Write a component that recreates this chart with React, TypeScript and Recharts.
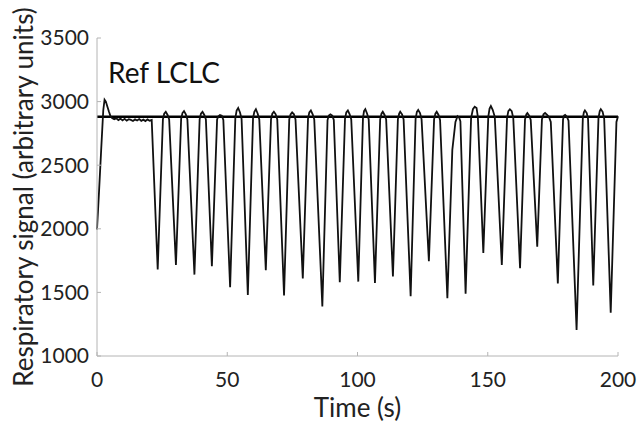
import React from 'react'
import { LineChart, Line, XAxis, YAxis, ReferenceLine } from 'recharts'

// respiratory trace (time in s, signal in arbitrary units)
const times = [
  0, 0.8, 1.6, 2.4, 2.9, 3.4, 4.0, 4.6, 5.2, 5.8, 6.6, 7.4, 8.2, 9.0, 9.8, 10.6, 11.4, 12.2, 13.0, 13.8,
  14.6, 15.4, 16.2, 17.0, 17.8, 18.6, 19.4, 20.2, 21.0,
  23.3, 25.3, 25.8, 26.4, 27.1, 27.7,
  30.3, 32.3, 32.8, 33.4, 34.1, 34.7,
  37.4, 39.4, 39.9, 40.5, 41.2, 41.8,
  44.1, 46.1, 46.6, 47.2, 47.9, 48.5,
  51.1, 53.1, 53.6, 54.2, 54.9, 55.5,
  57.9, 59.9, 60.4, 61.0, 61.7, 62.3,
  64.8, 66.8, 67.3, 67.9, 68.6, 69.2,
  71.8, 73.8, 74.3, 74.9, 75.6, 76.2,
  79.0, 81.0, 81.5, 82.1, 82.8, 83.4,
  86.5, 88.5, 89.0, 89.6, 90.3, 90.9,
  93.2, 95.2, 95.7, 96.3, 97.0, 97.6,
  100.3, 102.1, 102.5, 103.0, 103.7, 104.3,
  106.7, 108.7, 109.2, 109.7, 110.4, 111.0,
  113.6, 115.5, 116.0, 116.4, 117.1, 117.7,
  120.4, 122.3, 122.8, 123.3, 124.0, 124.6,
  127.4, 129.4, 129.9, 130.4, 131.1, 131.7,
  134.5, 136.4, 137.6, 138.4, 139.0, 139.5,
  141.5, 143.6, 144.3, 145.0, 145.7, 146.2,
  148.3, 150.2, 150.7, 151.2, 151.9, 152.7,
  155.4, 157.4, 157.9, 158.5, 159.2, 159.8,
  162.4, 164.3, 164.8, 165.2, 165.9, 166.5,
  169.0, 170.8, 171.4, 172.0, 172.8, 173.5, 174.2,
  176.9, 178.9, 179.3, 179.7, 180.4, 181.0,
  184.1, 186.5, 186.9, 187.3, 188.0, 188.5,
  190.5, 192.5, 193.0, 193.4, 194.1, 194.7,
  197.2, 199.4, 200,
]

const signal = [
  1995, 2300, 2620, 2930, 3015, 3000, 2960, 2920, 2885, 2870, 2862, 2868, 2855, 2866, 2852, 2864, 2850, 2862, 2856, 2848,
  2860, 2851, 2863, 2849, 2858, 2847, 2860, 2850, 2855,
  1680, 2860, 2905, 2920, 2895, 2860,
  1715, 2865, 2910, 2925, 2900, 2860,
  1640, 2860, 2905, 2920, 2895, 2860,
  1705, 2860, 2885, 2895, 2890, 2855,
  1540, 2870, 2930, 2950, 2915, 2865,
  1480, 2870, 2920, 2940, 2905, 2860,
  1675, 2860, 2905, 2920, 2900, 2860,
  1475, 2860, 2900, 2915, 2900, 2860,
  1610, 2865, 2915, 2930, 2900, 2860,
  1390, 2855, 2890, 2900, 2890, 2855,
  1580, 2865, 2915, 2930, 2900, 2860,
  1585, 2870, 2925, 2940, 2905, 2860,
  1575, 2860, 2905, 2920, 2895, 2860,
  1625, 2860, 2905, 2920, 2900, 2860,
  1470, 2865, 2920, 2935, 2910, 2860,
  1745, 2860, 2905, 2920, 2895, 2855,
  1455, 2620, 2840, 2885, 2875, 2845,
  1490, 2870, 2940, 2960, 2950, 2880,
  1810, 2880, 2945, 2965, 2935, 2880,
  1715, 2870, 2925, 2940, 2925, 2870,
  1690, 2860, 2900, 2910, 2890, 2855,
  1860, 2860, 2900, 2910, 2895, 2880, 2840,
  1570, 2860, 2890, 2895, 2880, 2850,
  1205, 2870, 2915, 2930, 2910, 2865,
  1555, 2870, 2925, 2940, 2920, 2865,
  1340, 2840, 2885,
]

const referenceLevel = 2880
const xTicks = [0, 50, 100, 150, 200]
const yTicks = [1000, 1500, 2000, 2500, 3000, 3500]

const data = times.map((t, i) => ({ t, v: signal[i] }))

const font = 'Lato, "Open Sans", sans-serif'
const frame = '#b4b4b4'
const tickStyle = { fontSize: 21, fill: '#222', fontFamily: font }

export default function App() {
  return (
    <div style={{ position: 'relative', width: 641, height: 428, background: '#fff' }}>
      <style>{'body{margin:0}'}</style>
      <LineChart width={641} height={428} data={data} margin={{ top: 38, right: 23, left: 0, bottom: 0 }}>
        <XAxis
          dataKey="t"
          type="number"
          domain={[0, 200]}
          ticks={xTicks}
          height={72}
          stroke={frame}
          tickSize={-4}
          tickMargin={20}
          tick={tickStyle}
        />
        <XAxis
          xAxisId="top"
          orientation="top"
          dataKey="t"
          type="number"
          domain={[0, 200]}
          ticks={xTicks}
          height={0}
          stroke={frame}
          tickSize={-4}
          tick={false}
        />
        <YAxis
          type="number"
          domain={[1000, 3500]}
          ticks={yTicks}
          width={97}
          stroke={frame}
          tickSize={-4}
          tickMargin={12}
          tick={tickStyle}
        />
        <YAxis
          yAxisId="right"
          orientation="right"
          type="number"
          domain={[1000, 3500]}
          ticks={yTicks}
          width={0}
          stroke={frame}
          tickSize={-4}
          tick={false}
        />
        <ReferenceLine y={referenceLevel} stroke="#000" strokeWidth={2.5} />
        <Line
          type="linear"
          dataKey="v"
          stroke="#111"
          strokeWidth={1.8}
          dot={false}
          isAnimationActive={false}
        />
      </LineChart>
      <svg
        width={641}
        height={428}
        style={{ position: 'absolute', left: 0, top: 0, pointerEvents: 'none' }}
      >
        <text x={108} y={83} fontSize={28} fontFamily={font} fill="#111">
          Ref LCLC
        </text>
        <text x={357.5} y={417} fontSize={26} fontFamily={font} fill="#222" textAnchor="middle">
          Time (s)
        </text>
        <text
          transform="translate(33,197) rotate(-90)"
          fontSize={26}
          fontFamily={font}
          fill="#222"
          textAnchor="middle"
        >
          Respiratory signal (arbitrary units)
        </text>
      </svg>
    </div>
  )
}
